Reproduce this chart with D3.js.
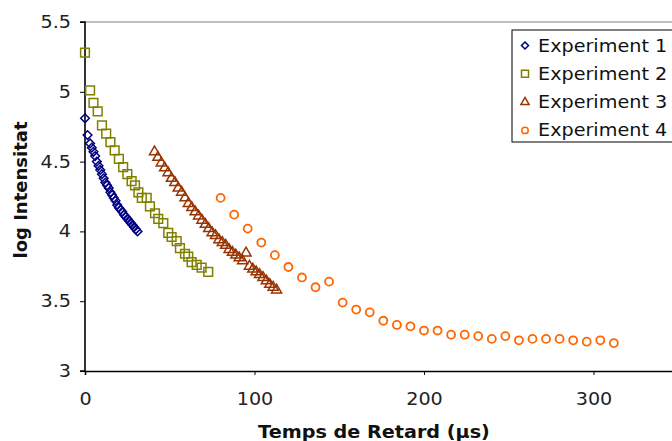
<!DOCTYPE html>
<html><head><meta charset="utf-8">
<script src="https://cdn.jsdelivr.net/npm/d3@7"></script>
<style>body{margin:0;background:#fff}svg{display:block}</style>
</head><body>
<svg id="c" width="672" height="441"></svg>
<script>
const xTicks = [0, 100, 200, 300];
const yTicks = [3, 3.5, 4, 4.5, 5, 5.5];
const seriesNames = ["Experiment 1", "Experiment 2", "Experiment 3", "Experiment 4"];

const exp1X = [0, 1.5, 3, 4, 5, 6, 7, 8, 9, 10, 11, 12, 13, 14, 15, 16, 17, 18, 19, 20, 21, 22, 23, 24, 25, 26, 27, 28, 29, 30, 31];
const exp1Y = [4.81, 4.69, 4.63, 4.60, 4.57, 4.54, 4.50, 4.47, 4.44, 4.41, 4.38, 4.35, 4.33, 4.31, 4.28, 4.26, 4.24, 4.22, 4.19, 4.17, 4.155, 4.14, 4.12, 4.105, 4.09, 4.075, 4.06, 4.045, 4.03, 4.015, 4.00];

const exp2X = [0, 3, 5, 7.5, 10, 12.5, 15, 17.5, 20, 22.5, 25, 27.5, 29.5, 31.5, 33.5, 36.4, 38.3, 41.3, 43.2, 46.2, 49.1, 51.1, 54.1, 56, 59, 60.9, 62.9, 65.9, 68.8, 72.7];
const exp2Y = [5.28, 5.01, 4.92, 4.86, 4.76, 4.70, 4.64, 4.58, 4.52, 4.46, 4.41, 4.36, 4.33, 4.28, 4.24, 4.24, 4.18, 4.13, 4.09, 4.06, 3.99, 3.96, 3.93, 3.88, 3.84, 3.82, 3.78, 3.76, 3.74, 3.71];

const exp3X = [41, 43, 45, 47, 49, 51, 53, 55, 57, 59, 61, 63, 65, 67, 69, 71, 73, 75, 77, 79, 81, 83, 85, 87, 89, 91, 93, 95, 97, 99, 101, 103, 105, 107, 109, 111, 113];
const exp3Y = [4.57, 4.53, 4.49, 4.455, 4.42, 4.38, 4.35, 4.31, 4.28, 4.24, 4.20, 4.17, 4.14, 4.11, 4.08, 4.05, 4.02, 3.99, 3.97, 3.94, 3.92, 3.90, 3.87, 3.85, 3.83, 3.81, 3.79, 3.845, 3.75, 3.73, 3.71, 3.69, 3.67, 3.645, 3.62, 3.60, 3.58];

const exp4X = [80, 88, 96, 104, 112, 120, 128, 136, 144, 152, 160, 168, 176, 184, 192, 200, 208, 216, 224, 232, 240, 248, 256, 264, 272, 280, 288, 296, 304, 312];
const exp4Y = [4.24, 4.12, 4.02, 3.92, 3.83, 3.745, 3.67, 3.60, 3.64, 3.49, 3.44, 3.42, 3.36, 3.33, 3.32, 3.29, 3.29, 3.26, 3.26, 3.25, 3.23, 3.25, 3.22, 3.23, 3.23, 3.23, 3.22, 3.21, 3.22, 3.20];

const colors = ["#000080", "#808000", "#993300", "#FF6600"];
const SX = 1.13; // horizontal text stretch of the source picture
const FONT = "DejaVu Sans, Verdana, sans-serif";

const svg = d3.select("#c");
const x = d3.scaleLinear().domain([0, 400]).range([85, 85 + 400 * 1.695]);
const y = d3.scaleLinear().domain([3, 5.5]).range([371, 22]);

// plot top border
svg.append("line").attr("x1", x(0)).attr("x2", 672).attr("y1", y(5.5)).attr("y2", y(5.5))
  .attr("stroke", "#808080").attr("stroke-width", 1);

const gx = svg.append("g").attr("transform", `translate(0,${y(3)})`)
  .call(d3.axisBottom(x).tickValues(xTicks).tickSize(4).tickPadding(18).tickFormat(d => String(d)));
const gy = svg.append("g").attr("transform", `translate(${x(0)},0)`)
  .call(d3.axisLeft(y).tickValues(yTicks).tickSize(5).tickPadding(9).tickFormat(d => String(d)));
[gx, gy].forEach(g => {
  g.select(".domain").attr("stroke", "#000").attr("stroke-width", 1.6);
  g.selectAll(".tick line").attr("stroke", "#000");
  g.selectAll("text").attr("font-family", FONT).attr("font-size", 17).attr("fill", "#222")
    .attr("transform", `scale(${SX},1)`);
});
gy.select(".domain").attr("d", `M-5,${y(5.5)}H0V${y(3)}H-5`);
gx.selectAll("text").attr("x", 0);
gy.selectAll("text").attr("x", -14 / SX);

// axis titles
svg.append("text").attr("transform", `translate(374,438) scale(${SX},1)`)
  .attr("text-anchor", "middle").attr("font-family", FONT).attr("font-weight", "bold")
  .attr("font-size", 17).attr("fill", "#111").text("Temps de Retard (µs)");
svg.append("text").attr("transform", `translate(27,190) rotate(-90)`)
  .attr("text-anchor", "middle").attr("font-family", FONT).attr("font-weight", "bold")
  .attr("font-size", 18).attr("fill", "#111").text("log Intensitat");

const diamond = { draw(ctx, size) { const r = Math.sqrt(size) / 2 * 1.2; ctx.moveTo(0, -r); ctx.lineTo(r, 0); ctx.lineTo(0, r); ctx.lineTo(-r, 0); ctx.closePath(); } };
const shapes = [diamond, d3.symbolSquare, d3.symbolTriangle, d3.symbolCircle];
const sizes = [52, 76, 44, 50];
const data = [[exp1X, exp1Y], [exp2X, exp2Y], [exp3X, exp3Y], [exp4X, exp4Y]];

const plot = svg.append("g");
data.forEach(([xs, ys], i) => {
  const pts = xs.map((v, j) => ({ x: v, y: ys[j] }));
  plot.append("g").selectAll("path").data(pts).join("path")
    .attr("d", d3.symbol().type(shapes[i]).size(sizes[i]))
    .attr("transform", d => `translate(${x(d.x)},${y(d.y)})`)
    .attr("fill", "none").attr("stroke", colors[i]).attr("stroke-width", i === 3 ? 1.8 : 1.5);
});

// legend
const lg = svg.append("g");
lg.append("rect").attr("x", 512).attr("y", 30).attr("width", 170).attr("height", 112)
  .attr("fill", "#fff").attr("stroke", "#000").attr("stroke-width", 1);
seriesNames.forEach((name, i) => {
  const cy = 45.5 + i * 28.3;
  lg.append("path").attr("d", d3.symbol().type(shapes[i]).size(sizes[i] * 0.65))
    .attr("transform", `translate(525,${cy})`).attr("fill", "none")
    .attr("stroke", colors[i]).attr("stroke-width", 1.5);
  lg.append("text").attr("transform", `translate(538,${cy + 6}) scale(${SX},1)`)
    .attr("font-family", FONT).attr("font-size", 17).attr("fill", "#111").text(name);
});
</script>
</body></html>
